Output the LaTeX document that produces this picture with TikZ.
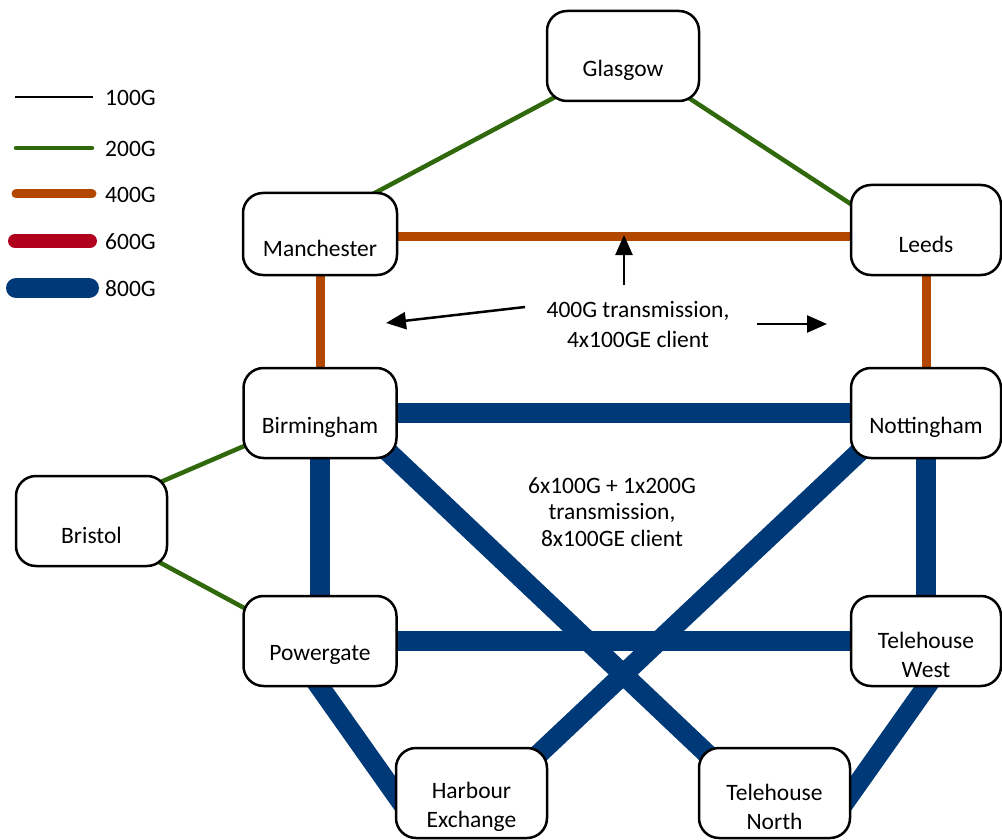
\documentclass[tikz,border=0pt]{standalone}
\usepackage{fontspec}
\setmainfont{Carlito}
\usetikzlibrary{calc,arrows.meta}
\definecolor{lnkgreen}{RGB}{47,105,12}
\definecolor{lnkorange}{RGB}{179,71,0}
\definecolor{lnkred}{RGB}{176,0,30}
\definecolor{lnkblue}{RGB}{0,57,120}
\begin{document}
\begin{tikzpicture}[x=1pt,y=-1pt,
  site/.style={draw=black,line width=2.5pt,fill=white,rounded corners=20pt,
    minimum width=151pt,minimum height=90pt,inner sep=0pt},
  sitename/.style={font=\fontsize{23.5}{29}\selectfont,align=center,inner sep=0pt},
  note/.style={font=\fontsize{23.5}{30}\selectfont,align=center,inner sep=0pt},
  keytext/.style={font=\fontsize{23.5}{28}\selectfont,anchor=west,inner sep=0pt},
  g100/.style={line width=2pt,black},
  g200/.style={line width=4.5pt,lnkgreen},
  g400/.style={line width=9pt,lnkorange},
  g600/.style={line width=14pt,lnkred},
  g800/.style={line width=20pt,lnkblue},
  ext/.style={shorten <=-20pt,shorten >=-20pt},
  pointer/.style={line width=2.5pt,-{Triangle[length=20pt,width=17pt]}}
]
\useasboundingbox (0,0) rectangle (1002,840);

% site positions
\coordinate (glaP) at (623,56);
\coordinate (manP) at (320,234);
\coordinate (leeP) at (926,230);
\coordinate (birP) at (320,413);
\coordinate (notP) at (926,413);
\coordinate (briP) at (91.5,521);
\coordinate (powP) at (320,641);
\coordinate (twP)  at (926,641);
\coordinate (heP)  at (471.5,793);
\coordinate (tnP)  at (774.5,793);

% box outlines, used as anchors for the links
\path
  node[site,draw=none,fill=none,minimum width=152pt] (gla) at (glaP) {}
  node[site,draw=none,fill=none,minimum width=154pt,minimum height=82pt] (man) at (manP) {}
  node[site,draw=none,fill=none,minimum width=150pt] (lee) at (leeP) {}
  node[site,draw=none,fill=none,minimum width=153pt] (bir) at (birP) {}
  node[site,draw=none,fill=none,minimum width=150pt] (not) at (notP) {}
  node[site,draw=none,fill=none] (bri) at (briP) {}
  node[site,draw=none,fill=none,minimum width=153pt] (pow) at (powP) {}
  node[site,draw=none,fill=none,minimum width=150pt] (tw) at (twP) {}
  node[site,draw=none,fill=none] (he) at (heP) {}
  node[site,draw=none,fill=none] (tn) at (tnP) {};

% 200G links
\draw[g200,ext] ($(gla.south west)+(9,-5)$) -- ($(man.north east)+(-23,1)$);
\draw[g200,ext] ($(gla.south east)+(-11,-4)$) -- ($(lee.west)+(1,-26)$);
\draw[g200,ext] ($(bri.north east)+(-7,7)$) -- ($(bir.west)+(2,33)$);
\draw[g200,ext] ($(bri.south east)+(-7,-4)$) -- ($(pow.west)+(2,-33)$);

% 400G links
\draw[g400] ($(man.east)+(0,2)$) -- ($(lee.west)+(0,6)$);
\draw[g400] (man) -- (bir);
\draw[g400] (lee) -- (not);

% 800G links
\draw[g800] (bir) -- (not);
\draw[g800] (bir) -- (pow);
\draw[g800] (not) -- (tw);
\draw[g800] (pow) -- (tw);
\draw[g800,ext] ($(bir.south east)+(-6,-4)$) -- ($(tn.north west)+(6,4)$);
\draw[g800,ext] ($(not.south west)+(6,-4)$) -- ($(he.north east)+(-6,4)$);
\draw[g800,ext] (pow.south) -- (he.west);
\draw[g800,ext] (tw.south) -- (tn.east);

% site boxes
\foreach \n/\w/\h in {gla/152/90,man/154/82,lee/150/90,bir/153/90,not/150/90,
                      bri/151/90,pow/153/90,tw/150/90,he/151/90,tn/151/90}
  \node[site,minimum width=\w pt,minimum height=\h pt] at (\n) {};

% site names
\node[sitename] (glaT) at ($(gla)+(0,14)$) {Glasgow};
\node[sitename] (manT) at ($(man)+(0,14)$) {Manchester};
\node[sitename] (leeT) at ($(lee)+(0,14)$) {Leeds};
\node[sitename] (birT) at ($(bir)+(0,14)$) {Birmingham};
\node[sitename] (notT) at ($(not)+(0,14)$) {Nottingham};
\node[sitename] (briT) at ($(bri)+(0,14)$) {Bristol};
\node[sitename] (powT) at ($(pow)+(0,14)$) {Powergate};
\node[sitename] (twT)  at ($(tw)+(0,14)$)  {Telehouse\\West};
\node[sitename] (heT)  at ($(he)+(0,14)$)  {Harbour\\Exchange};
\node[sitename] (tnT)  at ($(tn)+(0,14)$)  {Telehouse\\North};

% annotations
\node[note] (n400) at (638,325) {400G transmission,\\4x100GE client};
\node[note,font=\fontsize{23.5}{26.5}\selectfont] (n800) at (612,512)
  {6x100G + 1x200G\\transmission,\\8x100GE client};

\coordinate (upS) at (624,285);
\coordinate (upE) at (624,235);
\coordinate (lfS) at (525,307);
\coordinate (lfE) at (386,323);
\coordinate (rtS) at (757,324);
\coordinate (rtE) at (827,324);
\draw[pointer] (upS) -- (upE);
\draw[pointer] (lfS) -- (lfE);
\draw[pointer] (rtS) -- (rtE);

% legend
\coordinate (k1a) at (15,97);  \coordinate (k1b) at (93,97);
\coordinate (k2a) at (16,148); \coordinate (k2b) at (92,148);
\coordinate (k3a) at (16,194); \coordinate (k3b) at (92,194);
\coordinate (k4a) at (15,241); \coordinate (k4b) at (90,241);
\coordinate (k5a) at (16,288); \coordinate (k5b) at (89,288);
\draw[g100] (k1a) -- (k1b);
\draw[g200,line cap=round] (k2a) -- (k2b);
\draw[g400,line cap=round] (k3a) -- (k3b);
\draw[g600,line cap=round] (k4a) -- (k4b);
\draw[g800,line cap=round] (k5a) -- (k5b);
\node[keytext] (k1) at (105,98)  {100G};
\node[keytext] (k2) at (105,149) {200G};
\node[keytext] (k3) at (105,195) {400G};
\node[keytext] (k4) at (105,242) {600G};
\node[keytext] (k5) at (105,289) {800G};
\end{tikzpicture}
\end{document}
